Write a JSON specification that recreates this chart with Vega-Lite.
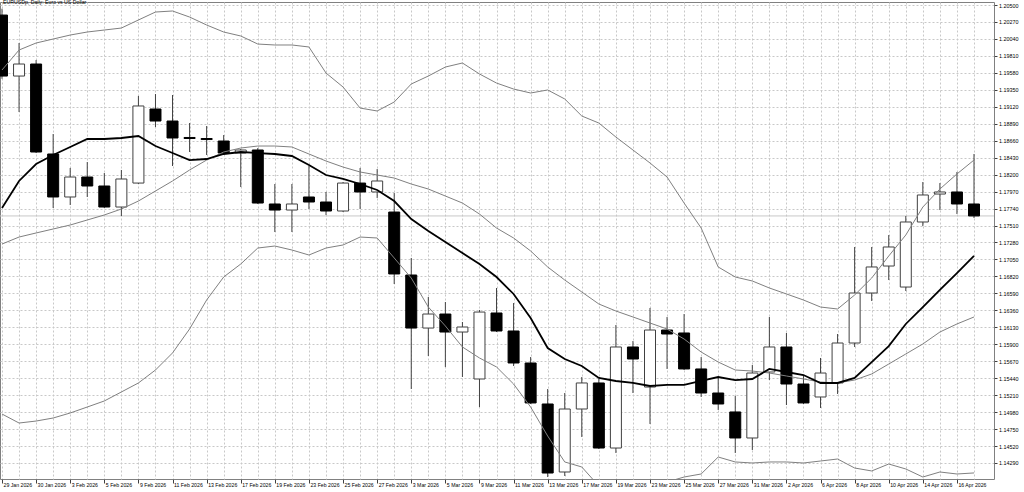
{
  "$schema": "https://vega.github.io/schema/vega-lite/v6.json",
  "width": 994,
  "height": 477,
  "autosize": {"type": "none"},
  "padding": {"left": 0, "top": 2, "right": 30, "bottom": 13},
  "background": "#ffffff",
  "title": {"text": "EURUSDp, Daily:  Euro vs US Dollar", "anchor": "start", "frame": "group", "orient": "top", "offset": -3, "baseline": "top", "dx": 3, "fontSize": 5.2, "font": "Liberation Sans", "fontWeight": "normal", "color": "#000000"},
  "config": {
    "view": {"stroke": "#808080", "strokeWidth": 1},
    "axis": {"labelOverlap": false, "labelBound": false, "labelFlush": false}
  },
  "data": {"values": [
    {"d": "28 Jan 2026", "open": 1.20364, "high": 1.20450, "low": 1.19500, "close": 1.19537, "ma": 1.17748, "up": 1.19619, "mid": 1.17259, "lo": 1.14954},
    {"d": "29 Jan 2026", "open": 1.19537, "high": 1.19985, "low": 1.19049, "close": 1.19700, "ma": 1.18114, "up": 1.19890, "mid": 1.17354, "lo": 1.14832},
    {"d": "30 Jan 2026", "open": 1.19700, "high": 1.19754, "low": 1.18493, "close": 1.18507, "ma": 1.18344, "up": 1.19985, "mid": 1.17409, "lo": 1.14859},
    {"d": "2 Feb 2026", "open": 1.18480, "high": 1.18751, "low": 1.17748, "close": 1.17897, "ma": 1.18466, "up": 1.20039, "mid": 1.17463, "lo": 1.14900},
    {"d": "3 Feb 2026", "open": 1.17897, "high": 1.18290, "low": 1.17788, "close": 1.18168, "ma": 1.18575, "up": 1.20093, "mid": 1.17517, "lo": 1.14968},
    {"d": "4 Feb 2026", "open": 1.18168, "high": 1.18371, "low": 1.17897, "close": 1.18046, "ma": 1.18683, "up": 1.20134, "mid": 1.17585, "lo": 1.15049},
    {"d": "5 Feb 2026", "open": 1.18046, "high": 1.18222, "low": 1.17748, "close": 1.17761, "ma": 1.18683, "up": 1.20161, "mid": 1.17653, "lo": 1.15131},
    {"d": "6 Feb 2026", "open": 1.17761, "high": 1.18263, "low": 1.17639, "close": 1.18141, "ma": 1.18697, "up": 1.20188, "mid": 1.17734, "lo": 1.15253},
    {"d": "9 Feb 2026", "open": 1.18086, "high": 1.19266, "low": 1.18073, "close": 1.19131, "ma": 1.18724, "up": 1.20297, "mid": 1.17842, "lo": 1.15375},
    {"d": "10 Feb 2026", "open": 1.19090, "high": 1.19293, "low": 1.18846, "close": 1.18927, "ma": 1.18588, "up": 1.20405, "mid": 1.17978, "lo": 1.15551},
    {"d": "11 Feb 2026", "open": 1.18927, "high": 1.19280, "low": 1.18317, "close": 1.18697, "ma": 1.18493, "up": 1.20419, "mid": 1.18114, "lo": 1.15782},
    {"d": "12 Feb 2026", "open": 1.18704, "high": 1.18900, "low": 1.18507, "close": 1.18690, "ma": 1.18398, "up": 1.20337, "mid": 1.18263, "lo": 1.16107},
    {"d": "13 Feb 2026", "open": 1.18690, "high": 1.18859, "low": 1.18466, "close": 1.18676, "ma": 1.18412, "up": 1.20229, "mid": 1.18398, "lo": 1.16500},
    {"d": "16 Feb 2026", "open": 1.18656, "high": 1.18737, "low": 1.18480, "close": 1.18493, "ma": 1.18480, "up": 1.20134, "mid": 1.18507, "lo": 1.16812},
    {"d": "17 Feb 2026", "open": 1.18493, "high": 1.18548, "low": 1.18032, "close": 1.18534, "ma": 1.18507, "up": 1.20080, "mid": 1.18561, "lo": 1.16988},
    {"d": "18 Feb 2026", "open": 1.18534, "high": 1.18561, "low": 1.17802, "close": 1.17815, "ma": 1.18493, "up": 1.19971, "mid": 1.18588, "lo": 1.17205},
    {"d": "19 Feb 2026", "open": 1.17802, "high": 1.18073, "low": 1.17422, "close": 1.17720, "ma": 1.18480, "up": 1.19958, "mid": 1.18588, "lo": 1.17232},
    {"d": "20 Feb 2026", "open": 1.17720, "high": 1.18073, "low": 1.17422, "close": 1.17802, "ma": 1.18453, "up": 1.19958, "mid": 1.18575, "lo": 1.17178},
    {"d": "23 Feb 2026", "open": 1.17897, "high": 1.18317, "low": 1.17734, "close": 1.17829, "ma": 1.18331, "up": 1.19931, "mid": 1.18480, "lo": 1.17110},
    {"d": "24 Feb 2026", "open": 1.17829, "high": 1.17965, "low": 1.17653, "close": 1.17707, "ma": 1.18195, "up": 1.19578, "mid": 1.18385, "lo": 1.17205},
    {"d": "25 Feb 2026", "open": 1.17707, "high": 1.18100, "low": 1.17693, "close": 1.18086, "ma": 1.18141, "up": 1.19388, "mid": 1.18303, "lo": 1.17246},
    {"d": "26 Feb 2026", "open": 1.18086, "high": 1.18290, "low": 1.17734, "close": 1.17965, "ma": 1.18073, "up": 1.19103, "mid": 1.18236, "lo": 1.17354},
    {"d": "27 Feb 2026", "open": 1.17965, "high": 1.18276, "low": 1.17883, "close": 1.18114, "ma": 1.17992, "up": 1.19063, "mid": 1.18195, "lo": 1.17341},
    {"d": "2 Mar 2026", "open": 1.17693, "high": 1.17951, "low": 1.16717, "close": 1.16853, "ma": 1.17842, "up": 1.19185, "mid": 1.18154, "lo": 1.17070},
    {"d": "3 Mar 2026", "open": 1.16839, "high": 1.17070, "low": 1.15293, "close": 1.16120, "ma": 1.17598, "up": 1.19429, "mid": 1.18073, "lo": 1.16798},
    {"d": "4 Mar 2026", "open": 1.16120, "high": 1.16541, "low": 1.15741, "close": 1.16310, "ma": 1.17436, "up": 1.19537, "mid": 1.18005, "lo": 1.16405},
    {"d": "5 Mar 2026", "open": 1.16310, "high": 1.16473, "low": 1.15592, "close": 1.16066, "ma": 1.17286, "up": 1.19659, "mid": 1.17910, "lo": 1.16148},
    {"d": "6 Mar 2026", "open": 1.16066, "high": 1.16202, "low": 1.15456, "close": 1.16134, "ma": 1.17137, "up": 1.19714, "mid": 1.17815, "lo": 1.15863},
    {"d": "9 Mar 2026", "open": 1.15429, "high": 1.16365, "low": 1.15049, "close": 1.16337, "ma": 1.16988, "up": 1.19565, "mid": 1.17666, "lo": 1.15714},
    {"d": "10 Mar 2026", "open": 1.16324, "high": 1.16663, "low": 1.16066, "close": 1.16080, "ma": 1.16812, "up": 1.19442, "mid": 1.17476, "lo": 1.15592},
    {"d": "11 Mar 2026", "open": 1.16080, "high": 1.16459, "low": 1.15605, "close": 1.15646, "ma": 1.16582, "up": 1.19361, "mid": 1.17341, "lo": 1.15361},
    {"d": "12 Mar 2026", "open": 1.15646, "high": 1.15727, "low": 1.15090, "close": 1.15104, "ma": 1.16256, "up": 1.19307, "mid": 1.17165, "lo": 1.15049},
    {"d": "13 Mar 2026", "open": 1.15090, "high": 1.15293, "low": 1.14100, "close": 1.14154, "ma": 1.15849, "up": 1.19348, "mid": 1.16948, "lo": 1.14656},
    {"d": "16 Mar 2026", "open": 1.14168, "high": 1.15239, "low": 1.14114, "close": 1.15022, "ma": 1.15700, "up": 1.19226, "mid": 1.16771, "lo": 1.14304},
    {"d": "17 Mar 2026", "open": 1.15022, "high": 1.15456, "low": 1.14643, "close": 1.15375, "ma": 1.15605, "up": 1.18995, "mid": 1.16609, "lo": 1.14236},
    {"d": "18 Mar 2026", "open": 1.15375, "high": 1.15429, "low": 1.14480, "close": 1.14493, "ma": 1.15443, "up": 1.18900, "mid": 1.16446, "lo": 1.13978},
    {"d": "19 Mar 2026", "open": 1.14493, "high": 1.16161, "low": 1.14426, "close": 1.15863, "ma": 1.15402, "up": 1.18710, "mid": 1.16351, "lo": 1.13938},
    {"d": "20 Mar 2026", "open": 1.15863, "high": 1.15944, "low": 1.15239, "close": 1.15700, "ma": 1.15375, "up": 1.18534, "mid": 1.16270, "lo": 1.13951},
    {"d": "23 Mar 2026", "open": 1.15320, "high": 1.16392, "low": 1.14819, "close": 1.16093, "ma": 1.15334, "up": 1.18358, "mid": 1.16188, "lo": 1.13992},
    {"d": "24 Mar 2026", "open": 1.16093, "high": 1.16270, "low": 1.15565, "close": 1.16039, "ma": 1.15348, "up": 1.18168, "mid": 1.16107, "lo": 1.14032},
    {"d": "25 Mar 2026", "open": 1.16053, "high": 1.16310, "low": 1.15551, "close": 1.15565, "ma": 1.15348, "up": 1.17815, "mid": 1.15971, "lo": 1.14100},
    {"d": "26 Mar 2026", "open": 1.15565, "high": 1.15727, "low": 1.15185, "close": 1.15239, "ma": 1.15402, "up": 1.17476, "mid": 1.15795, "lo": 1.14141},
    {"d": "27 Mar 2026", "open": 1.15239, "high": 1.15443, "low": 1.15009, "close": 1.15090, "ma": 1.15456, "up": 1.16948, "mid": 1.15659, "lo": 1.14371},
    {"d": "30 Mar 2026", "open": 1.14982, "high": 1.15198, "low": 1.14426, "close": 1.14629, "ma": 1.15415, "up": 1.16812, "mid": 1.15551, "lo": 1.14304},
    {"d": "31 Mar 2026", "open": 1.14629, "high": 1.15619, "low": 1.14466, "close": 1.15510, "ma": 1.15429, "up": 1.16758, "mid": 1.15537, "lo": 1.14290},
    {"d": "1 Apr 2026", "open": 1.15524, "high": 1.16270, "low": 1.15415, "close": 1.15863, "ma": 1.15565, "up": 1.16663, "mid": 1.15510, "lo": 1.14304},
    {"d": "2 Apr 2026", "open": 1.15863, "high": 1.16053, "low": 1.15076, "close": 1.15361, "ma": 1.15524, "up": 1.16582, "mid": 1.15470, "lo": 1.14304},
    {"d": "3 Apr 2026", "open": 1.15361, "high": 1.15483, "low": 1.15090, "close": 1.15104, "ma": 1.15483, "up": 1.16500, "mid": 1.15429, "lo": 1.14290},
    {"d": "6 Apr 2026", "open": 1.15185, "high": 1.15714, "low": 1.15036, "close": 1.15510, "ma": 1.15375, "up": 1.16405, "mid": 1.15388, "lo": 1.14317},
    {"d": "7 Apr 2026", "open": 1.15375, "high": 1.16039, "low": 1.15226, "close": 1.15917, "ma": 1.15375, "up": 1.16378, "mid": 1.15375, "lo": 1.14344},
    {"d": "8 Apr 2026", "open": 1.15917, "high": 1.17219, "low": 1.15863, "close": 1.16595, "ma": 1.15443, "up": 1.16568, "mid": 1.15415, "lo": 1.14222},
    {"d": "9 Apr 2026", "open": 1.16595, "high": 1.17219, "low": 1.16487, "close": 1.16948, "ma": 1.15659, "up": 1.16798, "mid": 1.15497, "lo": 1.14182},
    {"d": "10 Apr 2026", "open": 1.16961, "high": 1.17381, "low": 1.16771, "close": 1.17219, "ma": 1.15876, "up": 1.17097, "mid": 1.15632, "lo": 1.14276},
    {"d": "13 Apr 2026", "open": 1.16676, "high": 1.17639, "low": 1.16622, "close": 1.17558, "ma": 1.16175, "up": 1.17381, "mid": 1.15768, "lo": 1.14209},
    {"d": "14 Apr 2026", "open": 1.17558, "high": 1.18100, "low": 1.17504, "close": 1.17924, "ma": 1.16405, "up": 1.17761, "mid": 1.15904, "lo": 1.14100},
    {"d": "15 Apr 2026", "open": 1.17937, "high": 1.18086, "low": 1.17720, "close": 1.17965, "ma": 1.16636, "up": 1.18005, "mid": 1.16066, "lo": 1.14168},
    {"d": "16 Apr 2026", "open": 1.17965, "high": 1.18236, "low": 1.17666, "close": 1.17802, "ma": 1.16866, "up": 1.18209, "mid": 1.16175, "lo": 1.14141},
    {"d": "17 Apr 2026", "open": 1.17802, "high": 1.18480, "low": 1.17612, "close": 1.17640, "ma": 1.17097, "up": 1.18398, "mid": 1.16270, "lo": 1.14155}
  ]},
  "resolve": {"axis": {"x": "independent"}},
  "layer": [
    {
      "transform": [{"filter": "datum.d == '17 Apr 2026'"}],
      "mark": {"type": "rule", "color": "#c8c8c8", "strokeWidth": 1},
      "encoding": {
        "y": {"field": "close", "type": "quantitative", "title": null,
          "scale": {"domain": [1.14073, 1.20541], "nice": false, "zero": false},
          "axis": {"orient": "right", "title": null, "format": ".5f", "tickCount": 100,
            "values": [1.1429, 1.1452, 1.1475, 1.1498, 1.1521, 1.1544, 1.1567, 1.159, 1.1613, 1.1636, 1.1659, 1.1682, 1.1705, 1.1728, 1.1751, 1.1774, 1.1797, 1.182, 1.1843, 1.1866, 1.1889, 1.1912, 1.1935, 1.1958, 1.1981, 1.2004, 1.2027, 1.205],
            "grid": true, "gridColor": "#c8c8c8", "gridDash": [2, 2], "gridWidth": 1,
            "domain": false, "ticks": true, "tickSize": 3, "tickColor": "#404040",
            "labelPadding": 1.5, "labelFont": "Liberation Sans", "labelFontSize": 5.4, "labelColor": "#000000",
            "labelOverlap": false, "labelBound": false, "labelFlush": false}}
      }
    },
    {
      "mark": {"type": "rule", "color": "#404040", "strokeWidth": 1, "clip": true},
      "encoding": {
        "x": {"field": "d", "type": "ordinal", "sort": null,
          "scale": {"type": "point", "padding": 0.645, "align": 0.0909},
          "axis": {"orient": "bottom", "title": null, "grid": true, "gridColor": "#c8c8c8", "gridDash": [2, 2], "gridWidth": 1, "labels": false, "ticks": false, "domain": false}},
        "y": {"field": "low", "type": "quantitative", "title": null},
        "y2": {"field": "high"}
      }
    },
    {
      "mark": {"type": "bar", "width": 11, "strokeWidth": 1, "clip": true},
      "encoding": {
        "x": {"field": "d", "type": "ordinal", "sort": null,
          "scale": {"type": "point", "padding": 0.645, "align": 0.0909},
          "axis": {"orient": "bottom", "title": null, "grid": false, "domain": false,
            "values": ["28 Jan 2026", "30 Jan 2026", "3 Feb 2026", "5 Feb 2026", "9 Feb 2026", "11 Feb 2026", "13 Feb 2026", "17 Feb 2026", "19 Feb 2026", "23 Feb 2026", "25 Feb 2026", "27 Feb 2026", "3 Mar 2026", "5 Mar 2026", "9 Mar 2026", "11 Mar 2026", "13 Mar 2026", "17 Mar 2026", "19 Mar 2026", "23 Mar 2026", "25 Mar 2026", "27 Mar 2026", "31 Mar 2026", "2 Apr 2026", "6 Apr 2026", "8 Apr 2026", "10 Apr 2026", "14 Apr 2026", "16 Apr 2026"],
            "labelExpr": "datum.value == '28 Jan 2026' ? '29 Jan 2026' : datum.value",
            "ticks": true, "tickSize": 4, "tickColor": "#404040",
            "labelAngle": 0, "labelAlign": "left", "labelBaseline": "middle", "labelPadding": 1, "labelOffset": 1,
            "labelFont": "Liberation Sans", "labelFontSize": 5.2, "labelColor": "#000000",
            "labelOverlap": false, "labelBound": false, "labelFlush": false}},
        "y": {"field": "open", "type": "quantitative", "title": null},
        "y2": {"field": "close"},
        "fill": {"condition": {"test": "datum.close < datum.open", "value": "#000000"}, "value": "#ffffff"},
        "stroke": {"condition": {"test": "datum.close < datum.open", "value": "#000000"}, "value": "#404040"}
      }
    },
    {
      "mark": {"type": "line", "color": "#808080", "strokeWidth": 1, "clip": true},
      "encoding": {
        "x": {"field": "d", "type": "ordinal", "sort": null, "axis": null},
        "y": {"field": "up", "type": "quantitative", "title": null}
      }
    },
    {
      "mark": {"type": "line", "color": "#808080", "strokeWidth": 1, "clip": true},
      "encoding": {
        "x": {"field": "d", "type": "ordinal", "sort": null, "axis": null},
        "y": {"field": "mid", "type": "quantitative", "title": null}
      }
    },
    {
      "mark": {"type": "line", "color": "#808080", "strokeWidth": 1, "clip": true},
      "encoding": {
        "x": {"field": "d", "type": "ordinal", "sort": null, "axis": null},
        "y": {"field": "lo", "type": "quantitative", "title": null}
      }
    },
    {
      "mark": {"type": "line", "color": "#000000", "strokeWidth": 1.8, "clip": true},
      "encoding": {
        "x": {"field": "d", "type": "ordinal", "sort": null, "axis": null},
        "y": {"field": "ma", "type": "quantitative", "title": null}
      }
    }
  ]
}
